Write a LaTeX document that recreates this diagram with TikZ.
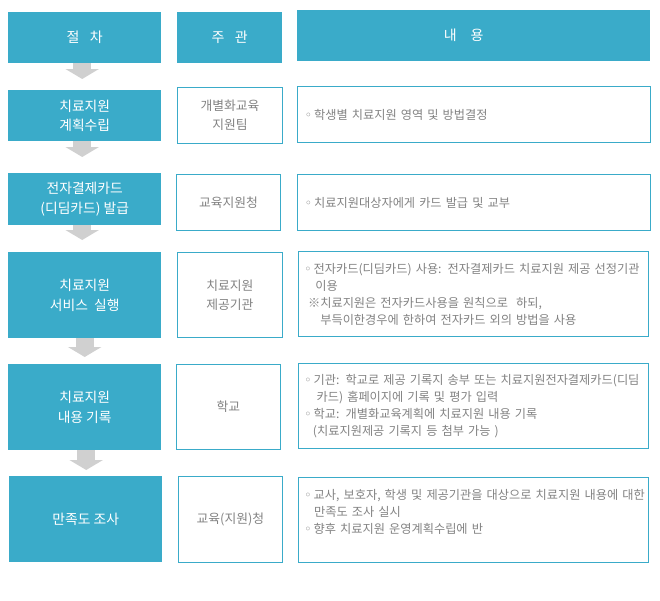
\documentclass[tikz,border=0pt]{standalone}
\usepackage{fontspec}
\setmainfont{Noto Sans CJK KR}
\newfontfamily\symfont{DejaVu Sans}
\usetikzlibrary{arrows.meta}
\definecolor{teal1}{RGB}{58,171,201}
\definecolor{txtgray}{RGB}{130,130,130}
\definecolor{arrgray}{RGB}{208,208,208}
\newcommand{\bul}{{\symfont ◦}\,}

\begin{document}
\begin{tikzpicture}[x=1pt,y=-1pt,
    stepbox/.style={fill=teal1, text=white, anchor=north west, align=center,
      inner sep=0pt, minimum width=153pt, font=\fontsize{13.8}{19.5}\selectfont},
    headbox/.style={stepbox, minimum height=51pt, font=\fontsize{14}{19}\selectfont},
    orgbox/.style={draw=teal1, line width=0.9pt, text=txtgray, anchor=north west,
      align=center, inner sep=0pt, minimum width=104pt, font=\fontsize{12.8}{19}\selectfont},
    contbox/.style={draw=teal1, line width=0.9pt, text=txtgray, anchor=north west,
      align=left, inner xsep=6pt, inner ysep=0pt, text width=338pt,
      font=\fontsize{12.2}{17}\selectfont},
    flow/.style={arrgray, line width=18pt, -{Triangle[width=33pt,length=10pt]}}]
  \useasboundingbox (0,0) rectangle (660,600);
  % header
  \node[headbox] (h1) at (8,12) {절\hspace{0.75em}차};
  \node[headbox, minimum width=105pt] (h2) at (177,12) {주\hspace{0.75em}관};
  \node[headbox, minimum width=353pt] (h3) at (297,10) {내\hspace{1em}용\hspace{20pt}};
  % steps
  \node[stepbox, minimum height=51pt] (s1) at (8,90) {치료지원\\계획수립};
  \node[stepbox, minimum height=52pt] (s2) at (8,173) {전자결제카드\\(디딤카드) 발급};
  \node[stepbox, minimum height=86pt] (s3) at (8,252) {치료지원\\서비스\ \ 실행};
  \node[stepbox, minimum height=86pt] (s4) at (8,364) {치료지원\\내용 기록};
  \node[stepbox, minimum height=86pt] (s5) at (9,476) {만족도 조사};
  % who
  \node[orgbox, minimum width=105pt, minimum height=56pt] (o1) at (177,87) {개별화교육\\지원팀};
  \node[orgbox, minimum height=56pt] (o2) at (176,174) {교육지원청};
  \node[orgbox, minimum width=105pt, minimum height=85pt] (o3) at (177,252) {치료지원\\제공기관};
  \node[orgbox, minimum height=85pt] (o4) at (176,364) {학교};
  \node[orgbox, minimum height=86pt] (o5) at (178,476) {교육(지원)청};
  % content
  \node[contbox, inner xsep=7.5pt, minimum height=56pt] (c1) at (297,86)
    {\bul 학생별 치료지원 영역 및 방법결정};
  \node[contbox, inner xsep=7.5pt, minimum height=56pt] (c2) at (297,174)
    {\bul 치료지원대상자에게 카드 발급 및 교부};
  \node[contbox, minimum height=85pt] (c3) at (298,251)
    {\mbox{\bul 전자카드(디딤카드) 사용: 전자결제카드 치료지원 제공 선정기관}\\
     \hspace*{0.9em}이용\\
     \hspace*{0.3em}※치료지원은 전자카드사용을 원칙으로\ \ 하되,\\
     \hspace*{1.3em}부득이한경우에 한하여 전자카드 외의 방법을 사용};
  \node[contbox, minimum height=85pt] (c4) at (298,363)
    {\mbox{\bul 기관: 학교로 제공 기록지 송부 또는 치료지원전자결제카드(디딤}\\
     \hspace*{1em}카드) 홈페이지에 기록 및 평가 입력\\
     \bul 학교: 개별화교육계획에 치료지원 내용 기록\\
     \hspace*{0.7em}(치료지원제공 기록지 등 첨부 가능 )};
  \node[contbox, minimum height=85pt] (c5) at (298,477)
    {\mbox{\bul 교사, 보호자, 학생 및 제공기관을 대상으로 치료지원 내용에 대한}\\
     \hspace*{0.8em}만족도 조사 실시\\
     \bul 향후 치료지원 운영계획수립에 반\\
     ~};
  % arrows
  \foreach \a/\b/\s/\d in {h1/s1/11/-2.5, s1/s2/16/-2.5, s2/s3/12/-2.5, s3/s4/7/0, s4/s5/6/1.5}
    \draw[flow, shorten >=\s pt] ([xshift=\d pt]\a.south) -- ([xshift=\d pt]\a.south |- \b.north);
\end{tikzpicture}
\end{document}
